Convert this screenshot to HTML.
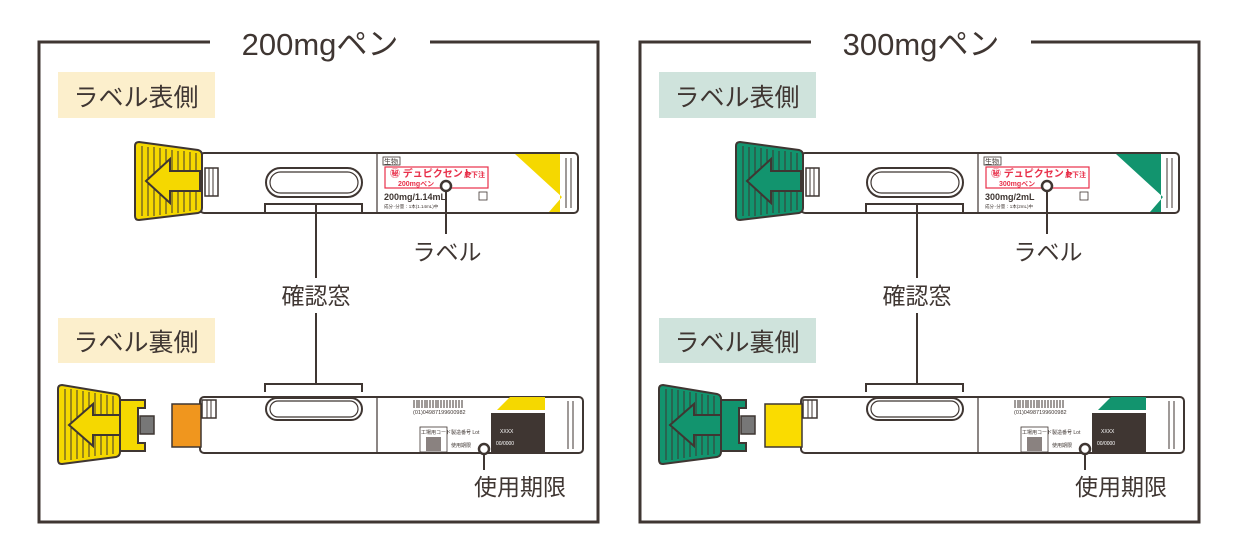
<!DOCTYPE html>
<html><head><meta charset="utf-8"><style>
html,body{margin:0;padding:0;background:#fff;}
svg{display:block;font-family:"Liberation Sans","Noto Sans CJK JP",sans-serif;}
</style></head><body>
<svg width="1238" height="548" viewBox="0 0 1238 548" xmlns="http://www.w3.org/2000/svg">

<g id="panelL">
  <path d="M210 42 H39 V522 H598 V42 H430" fill="none" stroke="#3f3632" stroke-width="3"/>
  <rect x="58" y="72" width="157" height="46" fill="#fcefcc"/>
  <text x="136" y="106" font-size="25" fill="#3f3632" text-anchor="middle">ラベル表側</text>
  <rect x="58" y="318" width="157" height="45" fill="#fcefcc"/>
  <text x="136" y="351" font-size="25" fill="#3f3632" text-anchor="middle">ラベル裏側</text>

  <rect x="200" y="153" width="378" height="60" rx="4" fill="#fff" stroke="#3f3632" stroke-width="2"/>
  <rect x="205" y="168" width="13" height="28" fill="#fff" stroke="#3f3632" stroke-width="1.5"/>
  <line x1="209" y1="168" x2="209" y2="196" stroke="#3f3632"/><line x1="213" y1="168" x2="213" y2="196" stroke="#3f3632"/>
  <rect x="266" y="168" width="96" height="29" rx="14.5" fill="#fff" stroke="#3f3632" stroke-width="2"/>
  <rect x="270" y="172" width="88" height="21" rx="10.5" fill="none" stroke="#3f3632" stroke-width="1.2"/>
  <path d="M265 213 V204 H362 V213" fill="none" stroke="#3f3632" stroke-width="2"/>
  <line x1="377" y1="153" x2="377" y2="213" stroke="#3f3632" stroke-width="1.2"/>
  <polygon points="515,154 560,154 560,212 549,212 562,197" fill="#f5d800"/>
  <line x1="566" y1="158" x2="566" y2="208" stroke="#3f3632"/><line x1="571" y1="158" x2="571" y2="208" stroke="#3f3632"/>
  <rect x="383" y="157" width="17" height="8" fill="none" stroke="#3f3632" stroke-width="0.8"/>
  <text x="384" y="164" font-size="7" fill="#3f3632">生物</text>
  <rect x="385" y="167" width="103" height="21" fill="#fff" stroke="#e8304a" stroke-width="1.2"/>
  <text x="390" y="177" font-size="10" font-weight="bold" fill="#e8304a">㊙ デュピクセント</text>
  <text x="464" y="177" font-size="7" font-weight="bold" fill="#e8304a">皮下注</text>
  <text x="398" y="186" font-size="7" font-weight="bold" fill="#e8304a">200mgペン</text>
  <text x="384" y="200" font-size="9" font-weight="bold" fill="#3f3632">200mg/1.14mL</text>
  <text x="384" y="208" font-size="4.5" fill="#3f3632">成分･分量：1本(1.14mL)中</text>
  <rect x="479" y="192" width="8" height="8" fill="none" stroke="#3f3632" stroke-width="0.8"/>
  <path d="M135 146 Q135 142 139 142 L198 150 Q202 151 202 155 V208 Q202 212 198 213 L139 220 Q135 220 135 216 Z" fill="#f5d800" stroke="#3f3632" stroke-width="2"/>
  <g stroke="#3f3632" stroke-width="1">
    <line x1="142" y1="146" x2="142" y2="216"/><line x1="148" y1="147" x2="148" y2="216"/><line x1="154" y1="147" x2="154" y2="216"/><line x1="160" y1="148" x2="160" y2="215"/><line x1="166" y1="149" x2="166" y2="214"/><line x1="172" y1="150" x2="172" y2="213"/><line x1="178" y1="151" x2="178" y2="213"/><line x1="184" y1="151" x2="184" y2="212"/><line x1="190" y1="152" x2="190" y2="211"/><line x1="196" y1="153" x2="196" y2="210"/>
  </g>
  <polygon points="146,181 170,159 170,171 200,171 200,191 170,191 170,203" fill="#f5d800" stroke="#3f3632" stroke-width="2"/>
  <line x1="316" y1="205" x2="316" y2="278" stroke="#3f3632" stroke-width="2"/>
  <text x="316" y="304" font-size="23" fill="#3f3632" text-anchor="middle">確認窓</text>
  <line x1="316" y1="313" x2="316" y2="384" stroke="#3f3632" stroke-width="2"/>
  <line x1="446" y1="188" x2="446" y2="234" stroke="#3f3632" stroke-width="2"/>
  <circle cx="446" cy="186" r="5" fill="#fff" stroke="#3f3632" stroke-width="2.5"/>
  <text x="447" y="260" font-size="23" fill="#3f3632" text-anchor="middle">ラベル</text>

  <rect x="200" y="397" width="383" height="56" rx="4" fill="#fff" stroke="#3f3632" stroke-width="2"/>
  <rect x="202" y="400" width="14" height="18" fill="#fff" stroke="#3f3632" stroke-width="1.5"/>
  <line x1="207" y1="400" x2="207" y2="418" stroke="#3f3632"/><line x1="211" y1="400" x2="211" y2="418" stroke="#3f3632"/>
  <rect x="266" y="398" width="96" height="22" rx="11" fill="#fff" stroke="#3f3632" stroke-width="2"/>
  <rect x="270" y="401" width="88" height="16" rx="8" fill="none" stroke="#3f3632" stroke-width="1.2"/>
  <path d="M265 392 V384 H362 V392" fill="none" stroke="#3f3632" stroke-width="2"/>
  <line x1="377" y1="397" x2="377" y2="453" stroke="#3f3632" stroke-width="1.2"/>
  <g stroke="#3f3632" stroke-width="1">
    <line x1="414" y1="400" x2="414" y2="408"/><line x1="417" y1="400" x2="417" y2="408"/><line x1="419" y1="400" x2="419" y2="408"/><line x1="422" y1="400" x2="422" y2="408"/><line x1="425" y1="400" x2="425" y2="408"/><line x1="427" y1="400" x2="427" y2="408"/><line x1="430" y1="400" x2="430" y2="408"/><line x1="433" y1="400" x2="433" y2="408"/><line x1="436" y1="400" x2="436" y2="408"/><line x1="438" y1="400" x2="438" y2="408"/><line x1="441" y1="400" x2="441" y2="408"/><line x1="444" y1="400" x2="444" y2="408"/><line x1="447" y1="400" x2="447" y2="408"/><line x1="450" y1="400" x2="450" y2="408"/><line x1="453" y1="400" x2="453" y2="408"/><line x1="456" y1="400" x2="456" y2="408"/><line x1="459" y1="400" x2="459" y2="408"/><line x1="462" y1="400" x2="462" y2="408"/>
  </g>
  <text x="413" y="414" font-size="5.5" fill="#3f3632">(01)04987199600982</text>
  <polygon points="510,397 545,397 545,410 497,410" fill="#f5d800"/>
  <rect x="491" y="413" width="54" height="40" fill="#3f3632"/>
  <text x="500" y="433" font-size="5" fill="#fff">XXXX</text>
  <text x="496" y="445" font-size="5" fill="#fff">00/0000</text>
  <line x1="568" y1="401" x2="568" y2="449" stroke="#3f3632"/><line x1="573" y1="401" x2="573" y2="449" stroke="#3f3632"/>
  <rect x="420" y="427" width="27" height="25" fill="#fff" stroke="#3f3632" stroke-width="0.8"/>
  <text x="421" y="434" font-size="5" fill="#3f3632">工場用コード</text>
  <rect x="426" y="437" width="15" height="14" fill="#8a8280"/>
  <text x="451" y="434" font-size="5" fill="#3f3632">製造番号 Lot</text>
  <text x="451" y="447" font-size="5" fill="#3f3632">使用期限</text>
  <rect x="172" y="404" width="29" height="43" fill="#f0961e" stroke="#3f3632" stroke-width="1.5"/>
  <rect x="140" y="416" width="14" height="18" fill="#777" stroke="#3f3632" stroke-width="1.5"/>
  <path d="M118 400 H145 V408 H138 V443 H145 V451 H118 Z" fill="#f5d800" stroke="#3f3632" stroke-width="2"/>
  <path d="M58 389 Q58 385 62 385 L116 394 Q120 395 120 399 V452 Q120 456 116 457 L62 464 Q58 464 58 460 Z" fill="#f5d800" stroke="#3f3632" stroke-width="2"/>
  <g stroke="#3f3632" stroke-width="1">
    <line x1="65" y1="389" x2="65" y2="460"/><line x1="71" y1="389" x2="71" y2="460"/><line x1="77" y1="390" x2="77" y2="459"/><line x1="83" y1="391" x2="83" y2="458"/><line x1="89" y1="392" x2="89" y2="457"/><line x1="95" y1="393" x2="95" y2="456"/><line x1="101" y1="394" x2="101" y2="455"/><line x1="107" y1="395" x2="107" y2="455"/><line x1="113" y1="396" x2="113" y2="454"/>
  </g>
  <polygon points="69,425 93,404 93,415 120,415 120,435 93,435 93,446" fill="#f5d800" stroke="#3f3632" stroke-width="2"/>
  <line x1="484" y1="453" x2="484" y2="470" stroke="#3f3632" stroke-width="2"/>
  <circle cx="484" cy="449" r="5" fill="#fff" stroke="#3f3632" stroke-width="2.5"/>
  <text x="520" y="495" font-size="23" fill="#3f3632" text-anchor="middle">使用期限</text>
</g>
<text x="320" y="55" font-size="31" fill="#3f3632" text-anchor="middle">200mgペン</text>

<g transform="translate(601,0)">
  <path d="M210 42 H39 V522 H598 V42 H430" fill="none" stroke="#3f3632" stroke-width="3"/>
  <rect x="58" y="72" width="157" height="46" fill="#cfe3dc"/>
  <text x="136" y="106" font-size="25" fill="#3f3632" text-anchor="middle">ラベル表側</text>
  <rect x="58" y="318" width="157" height="45" fill="#cfe3dc"/>
  <text x="136" y="351" font-size="25" fill="#3f3632" text-anchor="middle">ラベル裏側</text>

  <rect x="200" y="153" width="378" height="60" rx="4" fill="#fff" stroke="#3f3632" stroke-width="2"/>
  <rect x="205" y="168" width="13" height="28" fill="#fff" stroke="#3f3632" stroke-width="1.5"/>
  <line x1="209" y1="168" x2="209" y2="196" stroke="#3f3632"/><line x1="213" y1="168" x2="213" y2="196" stroke="#3f3632"/>
  <rect x="266" y="168" width="96" height="29" rx="14.5" fill="#fff" stroke="#3f3632" stroke-width="2"/>
  <rect x="270" y="172" width="88" height="21" rx="10.5" fill="none" stroke="#3f3632" stroke-width="1.2"/>
  <path d="M265 213 V204 H362 V213" fill="none" stroke="#3f3632" stroke-width="2"/>
  <line x1="377" y1="153" x2="377" y2="213" stroke="#3f3632" stroke-width="1.2"/>
  <polygon points="515,154 560,154 560,212 549,212 562,197" fill="#12946e"/>
  <line x1="566" y1="158" x2="566" y2="208" stroke="#3f3632"/><line x1="571" y1="158" x2="571" y2="208" stroke="#3f3632"/>
  <rect x="383" y="157" width="17" height="8" fill="none" stroke="#3f3632" stroke-width="0.8"/>
  <text x="384" y="164" font-size="7" fill="#3f3632">生物</text>
  <rect x="385" y="167" width="103" height="21" fill="#fff" stroke="#e8304a" stroke-width="1.2"/>
  <text x="390" y="177" font-size="10" font-weight="bold" fill="#e8304a">㊙ デュピクセント</text>
  <text x="464" y="177" font-size="7" font-weight="bold" fill="#e8304a">皮下注</text>
  <text x="398" y="186" font-size="7" font-weight="bold" fill="#e8304a">300mgペン</text>
  <text x="384" y="200" font-size="9" font-weight="bold" fill="#3f3632">300mg/2mL</text>
  <text x="384" y="208" font-size="4.5" fill="#3f3632">成分･分量：1本(2mL)中</text>
  <rect x="479" y="192" width="8" height="8" fill="none" stroke="#3f3632" stroke-width="0.8"/>
  <path d="M135 146 Q135 142 139 142 L198 150 Q202 151 202 155 V208 Q202 212 198 213 L139 220 Q135 220 135 216 Z" fill="#12946e" stroke="#3f3632" stroke-width="2"/>
  <g stroke="#3f3632" stroke-width="1">
    <line x1="142" y1="146" x2="142" y2="216"/><line x1="148" y1="147" x2="148" y2="216"/><line x1="154" y1="147" x2="154" y2="216"/><line x1="160" y1="148" x2="160" y2="215"/><line x1="166" y1="149" x2="166" y2="214"/><line x1="172" y1="150" x2="172" y2="213"/><line x1="178" y1="151" x2="178" y2="213"/><line x1="184" y1="151" x2="184" y2="212"/><line x1="190" y1="152" x2="190" y2="211"/><line x1="196" y1="153" x2="196" y2="210"/>
  </g>
  <polygon points="146,181 170,159 170,171 200,171 200,191 170,191 170,203" fill="#12946e" stroke="#3f3632" stroke-width="2"/>
  <line x1="316" y1="205" x2="316" y2="278" stroke="#3f3632" stroke-width="2"/>
  <text x="316" y="304" font-size="23" fill="#3f3632" text-anchor="middle">確認窓</text>
  <line x1="316" y1="313" x2="316" y2="384" stroke="#3f3632" stroke-width="2"/>
  <line x1="446" y1="188" x2="446" y2="234" stroke="#3f3632" stroke-width="2"/>
  <circle cx="446" cy="186" r="5" fill="#fff" stroke="#3f3632" stroke-width="2.5"/>
  <text x="447" y="260" font-size="23" fill="#3f3632" text-anchor="middle">ラベル</text>

  <rect x="200" y="397" width="383" height="56" rx="4" fill="#fff" stroke="#3f3632" stroke-width="2"/>
  <rect x="202" y="400" width="14" height="18" fill="#fff" stroke="#3f3632" stroke-width="1.5"/>
  <line x1="207" y1="400" x2="207" y2="418" stroke="#3f3632"/><line x1="211" y1="400" x2="211" y2="418" stroke="#3f3632"/>
  <rect x="266" y="398" width="96" height="22" rx="11" fill="#fff" stroke="#3f3632" stroke-width="2"/>
  <rect x="270" y="401" width="88" height="16" rx="8" fill="none" stroke="#3f3632" stroke-width="1.2"/>
  <path d="M265 392 V384 H362 V392" fill="none" stroke="#3f3632" stroke-width="2"/>
  <line x1="377" y1="397" x2="377" y2="453" stroke="#3f3632" stroke-width="1.2"/>
  <g stroke="#3f3632" stroke-width="1">
    <line x1="414" y1="400" x2="414" y2="408"/><line x1="417" y1="400" x2="417" y2="408"/><line x1="419" y1="400" x2="419" y2="408"/><line x1="422" y1="400" x2="422" y2="408"/><line x1="425" y1="400" x2="425" y2="408"/><line x1="427" y1="400" x2="427" y2="408"/><line x1="430" y1="400" x2="430" y2="408"/><line x1="433" y1="400" x2="433" y2="408"/><line x1="436" y1="400" x2="436" y2="408"/><line x1="438" y1="400" x2="438" y2="408"/><line x1="441" y1="400" x2="441" y2="408"/><line x1="444" y1="400" x2="444" y2="408"/><line x1="447" y1="400" x2="447" y2="408"/><line x1="450" y1="400" x2="450" y2="408"/><line x1="453" y1="400" x2="453" y2="408"/><line x1="456" y1="400" x2="456" y2="408"/><line x1="459" y1="400" x2="459" y2="408"/><line x1="462" y1="400" x2="462" y2="408"/>
  </g>
  <text x="413" y="414" font-size="5.5" fill="#3f3632">(01)04987199600982</text>
  <polygon points="510,397 545,397 545,410 497,410" fill="#12946e"/>
  <rect x="491" y="413" width="54" height="40" fill="#3f3632"/>
  <text x="500" y="433" font-size="5" fill="#fff">XXXX</text>
  <text x="496" y="445" font-size="5" fill="#fff">00/0000</text>
  <line x1="568" y1="401" x2="568" y2="449" stroke="#3f3632"/><line x1="573" y1="401" x2="573" y2="449" stroke="#3f3632"/>
  <rect x="420" y="427" width="27" height="25" fill="#fff" stroke="#3f3632" stroke-width="0.8"/>
  <text x="421" y="434" font-size="5" fill="#3f3632">工場用コード</text>
  <rect x="426" y="437" width="15" height="14" fill="#8a8280"/>
  <text x="451" y="434" font-size="5" fill="#3f3632">製造番号 Lot</text>
  <text x="451" y="447" font-size="5" fill="#3f3632">使用期限</text>
  <rect x="164" y="404" width="37" height="43" fill="#fadc00" stroke="#3f3632" stroke-width="1.5"/>
  <rect x="140" y="416" width="14" height="18" fill="#777" stroke="#3f3632" stroke-width="1.5"/>
  <path d="M118 400 H145 V408 H138 V443 H145 V451 H118 Z" fill="#12946e" stroke="#3f3632" stroke-width="2"/>
  <path d="M58 389 Q58 385 62 385 L116 394 Q120 395 120 399 V452 Q120 456 116 457 L62 464 Q58 464 58 460 Z" fill="#12946e" stroke="#3f3632" stroke-width="2"/>
  <g stroke="#3f3632" stroke-width="1">
    <line x1="65" y1="389" x2="65" y2="460"/><line x1="71" y1="389" x2="71" y2="460"/><line x1="77" y1="390" x2="77" y2="459"/><line x1="83" y1="391" x2="83" y2="458"/><line x1="89" y1="392" x2="89" y2="457"/><line x1="95" y1="393" x2="95" y2="456"/><line x1="101" y1="394" x2="101" y2="455"/><line x1="107" y1="395" x2="107" y2="455"/><line x1="113" y1="396" x2="113" y2="454"/>
  </g>
  <polygon points="69,425 93,404 93,415 120,415 120,435 93,435 93,446" fill="#12946e" stroke="#3f3632" stroke-width="2"/>
  <line x1="484" y1="453" x2="484" y2="470" stroke="#3f3632" stroke-width="2"/>
  <circle cx="484" cy="449" r="5" fill="#fff" stroke="#3f3632" stroke-width="2.5"/>
  <text x="520" y="495" font-size="23" fill="#3f3632" text-anchor="middle">使用期限</text>
</g>
<text x="921" y="55" font-size="31" fill="#3f3632" text-anchor="middle">300mgペン</text>
</svg>
</body></html>
